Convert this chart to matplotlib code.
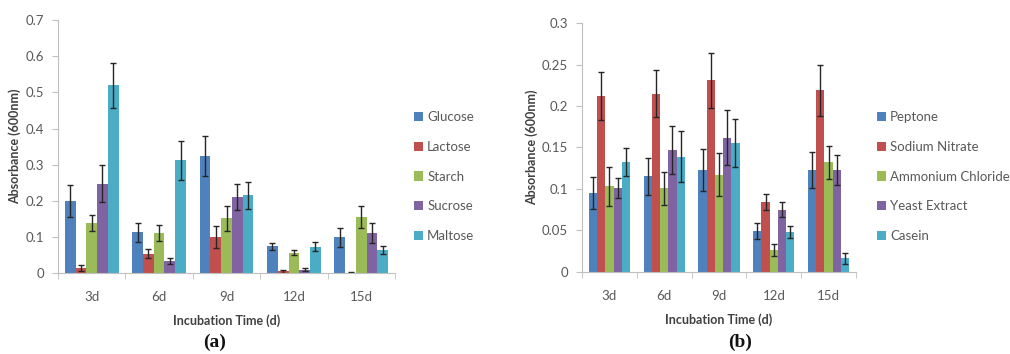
import matplotlib
matplotlib.use("Agg")
import matplotlib.pyplot as plt
import numpy as np

days = ["3d", "6d", "9d", "12d", "15d"]

# Panel (a): carbon sources
carbon_names = ["Glucose", "Lactose", "Starch", "Sucrose", "Maltose"]
glucose = [0.200, 0.113, 0.325, 0.075, 0.099]
glucose_err = [0.045, 0.026, 0.055, 0.010, 0.025]
lactose = [0.015, 0.054, 0.100, 0.005, 0.002]
lactose_err = [0.008, 0.013, 0.030, 0.003, 0.001]
starch = [0.139, 0.111, 0.152, 0.057, 0.155]
starch_err = [0.023, 0.022, 0.035, 0.007, 0.030]
sucrose = [0.248, 0.035, 0.211, 0.010, 0.112]
sucrose_err = [0.052, 0.008, 0.036, 0.004, 0.027]
maltose = [0.520, 0.312, 0.216, 0.074, 0.065]
maltose_err = [0.062, 0.054, 0.037, 0.012, 0.011]

# Panel (b): nitrogen sources
nitrogen_names = ["Peptone", "Sodium Nitrate", "Ammonium Chloride", "Yeast Extract", "Casein"]
peptone = [0.095, 0.115, 0.123, 0.049, 0.123]
peptone_err = [0.019, 0.022, 0.025, 0.010, 0.022]
sodium_nitrate = [0.212, 0.215, 0.231, 0.084, 0.219]
sodium_nitrate_err = [0.029, 0.028, 0.033, 0.010, 0.031]
ammonium_chloride = [0.103, 0.101, 0.117, 0.026, 0.132]
ammonium_chloride_err = [0.024, 0.020, 0.026, 0.007, 0.020]
yeast_extract = [0.101, 0.147, 0.162, 0.075, 0.123]
yeast_extract_err = [0.012, 0.029, 0.033, 0.009, 0.018]
casein = [0.132, 0.139, 0.155, 0.048, 0.016]
casein_err = [0.017, 0.031, 0.029, 0.007, 0.007]

colors = ["#4F81BD", "#C0504D", "#9BBB59", "#8064A2", "#4BACC6"]
FONT = ["Lato", "DejaVu Sans"]
GRAY = "#595959"
SPINE = "#BFBFBF"

fig = plt.figure(figsize=(10.10, 3.54), dpi=100)
W, H = 1010, 354


def panel(rect, names, vals, errs, bar_w, ymax, ystep, legend_xy, tag_x, tag):
    ax = fig.add_axes(rect)
    x = np.arange(len(days))
    n = len(names)
    handles = []
    for i in range(n):
        pos = x + (i - (n - 1) / 2) * bar_w
        b = ax.bar(pos, vals[i], width=bar_w, color=colors[i], label=names[i],
                   yerr=errs[i], error_kw=dict(ecolor="#262626", elinewidth=1.0,
                                               capsize=2.5, capthick=1.0))
        handles.append(b)
    ax.set_xlim(-0.5, len(days) - 0.5)
    ax.set_ylim(0, ymax)
    yt = np.round(np.arange(0, ymax + ystep / 2, ystep), 3)
    ax.set_yticks(yt)
    ax.set_yticklabels([("%g" % v) for v in yt], fontfamily=FONT, fontsize=9.5, color=GRAY)
    ax.set_xticks(x)
    ax.set_xticklabels(days, fontfamily=FONT, fontsize=9.5, color=GRAY)
    ax.set_xticks(np.arange(-0.5, len(days) + 0.5, 1), minor=True)
    ax.tick_params(axis="x", which="major", length=0, pad=13)
    ax.tick_params(axis="x", which="minor", length=4, color=SPINE, direction="out")
    ax.tick_params(axis="y", length=4, color=SPINE, direction="out", pad=6)
    for s in ["top", "right"]:
        ax.spines[s].set_visible(False)
    for s in ["left", "bottom"]:
        ax.spines[s].set_color(SPINE)
    ax.set_ylabel("Absorbance (600nm)", fontfamily=FONT, fontsize=9,
                  fontweight="bold", color="#404040")
    ax.set_xlabel("Incubation Time (d)", fontfamily=FONT, fontsize=9,
                  fontweight="bold", color="#404040", labelpad=8)
    leg = fig.legend(handles=handles, labels=names, loc="upper left",
                     bbox_to_anchor=legend_xy, frameon=False,
                     prop=dict(family=FONT, size=9.5), labelspacing=1.35,
                     handlelength=0.7, handleheight=0.7, handletextpad=0.3,
                     borderaxespad=0, borderpad=0)
    for t in leg.get_texts():
        t.set_color(GRAY)
    fig.text(tag_x, 1 - 342 / H, tag,
             family=["Liberation Serif", "DejaVu Serif"], fontweight="bold", fontsize=14,
             ha="center", va="center", color="#111111")
    return ax


ax1 = panel([58 / W, 1 - 273.3 / H, 337 / W, 253.3 / H], carbon_names,
            [glucose, lactose, starch, sucrose, maltose],
            [glucose_err, lactose_err, starch_err, sucrose_err, maltose_err],
            0.16, 0.7, 0.1, (414 / W, 1 - 111 / H), 215 / W, "(a)")
ax1.yaxis.set_label_coords(-0.11, 0.5)

ax2 = panel([582 / W, 1 - 271.7 / H, 274 / W, 248.4 / H], nitrogen_names,
            [peptone, sodium_nitrate, ammonium_chloride, yeast_extract, casein],
            [peptone_err, sodium_nitrate_err, ammonium_chloride_err, yeast_extract_err, casein_err],
            0.15, 0.3, 0.05, (877 / W, 1 - 111 / H), 740 / W, "(b)")
ax2.yaxis.set_label_coords(-0.16, 0.5)

fig.savefig("out.png", dpi=100)
